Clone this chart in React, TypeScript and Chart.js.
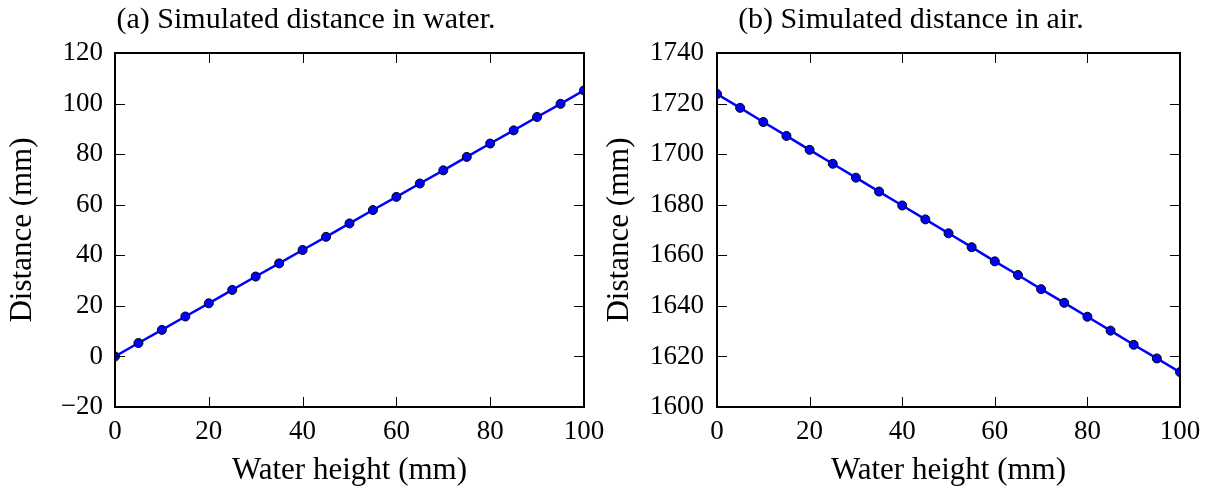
import React, { useEffect, useRef } from "react";
import { Chart, registerables } from "chart.js";

Chart.register(...registerables);

// ---- Data ----
const waterHeights = [0, 5, 10, 15, 20, 25, 30, 35, 40, 45, 50, 55, 60, 65, 70, 75, 80, 85, 90, 95, 100];
const distanceInWater = [0, 5.3, 10.5, 15.8, 21.0, 26.3, 31.6, 36.8, 42.1, 47.3, 52.6, 57.9, 63.1, 68.4, 73.6, 78.9, 84.2, 89.4, 94.7, 99.9, 105.2];
const distanceInAir = [1723.8, 1718.3, 1712.7, 1707.2, 1701.7, 1696.2, 1690.7, 1685.2, 1679.7, 1674.2, 1668.7, 1663.2, 1657.6, 1652.2, 1646.6, 1641.2, 1635.7, 1630.2, 1624.6, 1619.2, 1613.8];

const xTickValues = [0, 20, 40, 60, 80, 100];
const yTicksWater = [-20, 0, 20, 40, 60, 80, 100, 120];
const yTicksAir = [1600, 1620, 1640, 1660, 1680, 1700, 1720, 1740];

const titleWater = "(a) Simulated distance in water.";
const titleAir = "(b) Simulated distance in air.";
const xLabel = "Water height (mm)";
const yLabel = "Distance (mm)";

const FONT = "'Liberation Serif', 'DejaVu Serif', serif";

const framePlugin = {
  id: "frame",
  afterDatasetsDraw(chart: any) {
    const { ctx, chartArea } = chart;
    const { left, right, top, bottom } = chartArea;
    const xs = chart.scales.x;
    const ys = chart.scales.y;
    const tl = 10;
    ctx.save();
    ctx.strokeStyle = "#000";
    ctx.lineWidth = 1;
    ctx.beginPath();
    for (const t of xs.ticks) {
      const px = Math.round(xs.getPixelForValue(t.value)) + 0.5;
      ctx.moveTo(px, bottom);
      ctx.lineTo(px, bottom - tl);
      ctx.moveTo(px, top);
      ctx.lineTo(px, top + tl);
    }
    for (const t of ys.ticks) {
      const py = Math.round(ys.getPixelForValue(t.value)) + 0.5;
      ctx.moveTo(left, py);
      ctx.lineTo(left + tl, py);
      ctx.moveTo(right, py);
      ctx.lineTo(right - tl, py);
    }
    ctx.stroke();
    ctx.lineWidth = 2;
    ctx.strokeRect(left, top, right - left, bottom - top);
    ctx.restore();
  },
};

const panelTitlePlugin = {
  id: "panelTitle",
  afterDraw(chart: any, _args: any, opts: any) {
    const { ctx } = chart;
    ctx.save();
    ctx.fillStyle = "#000";
    ctx.font = `${opts.size}px ${FONT}`;
    ctx.textAlign = "center";
    ctx.textBaseline = "alphabetic";
    ctx.fillText(opts.text, opts.centerX, opts.baseline);
    ctx.restore();
  },
};

type PanelProps = {
  left: number;
  width: number;
  title: string;
  titleCenter: number;
  values: number[];
  yMin: number;
  yMax: number;
  yTicks: number[];
  yAxisWidth: number;
  yTitlePad: number;
  yTickPad: number;
  rightPad: number;
};

function Panel(p: PanelProps) {
  const ref = useRef<HTMLCanvasElement | null>(null);
  useEffect(() => {
    if (!ref.current) return;
    const tickFont = { family: FONT, size: 27 };
    const labelFont = { family: FONT, size: 31, lineHeight: 1 };
    const chart = new Chart(ref.current, {
      type: "line",
      data: {
        datasets: [
          {
            data: waterHeights.map((x, i) => ({ x, y: p.values[i] })),
            borderColor: "#0000ff",
            borderWidth: 2.5,
            backgroundColor: "#0000ff",
            pointBackgroundColor: "#0000ff",
            pointBorderColor: "#000000",
            pointBorderWidth: 1,
            pointRadius: 4.5,
            tension: 0,
            fill: false,
          },
        ],
      },
      options: {
        animation: false,
        responsive: true,
        maintainAspectRatio: false,
        layout: { padding: { left: 0, right: p.rightPad, top: 53, bottom: 0 } },
        plugins: {
          legend: { display: false },
          tooltip: { enabled: false },
          title: { display: false },
          panelTitle: { text: p.title, centerX: p.titleCenter, baseline: 28, size: 30 },
        },
        scales: {
          x: {
            type: "linear",
            min: 0,
            max: 100,
            afterBuildTicks: (s: any) => {
              s.ticks = xTickValues.map((v) => ({ value: v }));
            },
            afterFit: (s: any) => {
              s.height = 79;
            },
            grid: { display: false, drawTicks: false },
            border: { display: false },
            ticks: {
              color: "#000",
              font: tickFont,
              padding: 9,
              maxRotation: 0,
              autoSkip: false,
            },
            title: {
              display: true,
              text: xLabel,
              color: "#000",
              font: labelFont,
              padding: { top: 0, bottom: 0 },
            },
          },
          y: {
            type: "linear",
            min: p.yMin,
            max: p.yMax,
            afterBuildTicks: (s: any) => {
              s.ticks = p.yTicks.map((v) => ({ value: v }));
            },
            afterFit: (s: any) => {
              s.width = p.yAxisWidth;
            },
            grid: { display: false, drawTicks: false },
            border: { display: false },
            ticks: {
              color: "#000",
              font: tickFont,
              padding: p.yTickPad,
              autoSkip: false,
              callback: (v: any) => String(v).replace("-", "\u2212"),
            },
            title: {
              display: true,
              text: yLabel,
              color: "#000",
              font: labelFont,
              padding: { top: p.yTitlePad, bottom: 0 },
            },
          },
        },
      },
      plugins: [framePlugin, panelTitlePlugin],
    } as any);
    return () => chart.destroy();
  }, []);
  return (
    <div style={{ position: "absolute", left: p.left, top: 0, width: p.width, height: 486 }}>
      <canvas ref={ref} />
    </div>
  );
}

export default function App() {
  return (
    <div style={{ position: "absolute", left: 0, top: 0, width: 1218, height: 486, background: "#fff" }}>
      <Panel
        left={0}
        width={618}
        title={titleWater}
        titleCenter={306}
        values={distanceInWater}
        yMin={-20}
        yMax={120}
        yTicks={yTicksWater}
        yAxisWidth={115}
        yTitlePad={7.5}
        yTickPad={12}
        rightPad={34}
      />
      <Panel
        left={600}
        width={618}
        title={titleAir}
        titleCenter={311}
        values={distanceInAir}
        yMin={1600}
        yMax={1740}
        yTicks={yTicksAir}
        yAxisWidth={117}
        yTitlePad={4.5}
        yTickPad={13}
        rightPad={38}
      />
    </div>
  );
}
